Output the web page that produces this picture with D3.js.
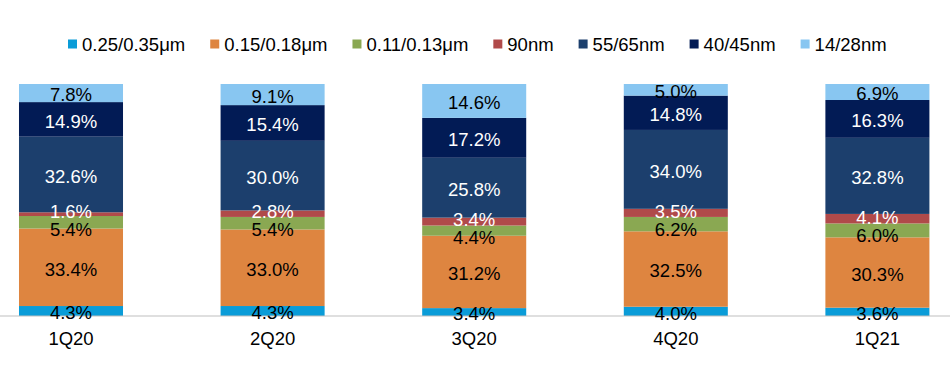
<!DOCTYPE html>
<html>
<head>
<meta charset="utf-8">
<script src="https://cdn.jsdelivr.net/npm/d3@7"></script>
<style>
  body { margin: 0; background: #fff; }
  text { font-family: "Liberation Sans", Arial, sans-serif; }
</style>
</head>
<body>
<div id="chart"></div>
<script>
// quarters and node shares (%), bottom to top
const quarters = ["1Q20", "2Q20", "3Q20", "4Q20", "1Q21"];
const nodes = ["0.25/0.35μm", "0.15/0.18μm", "0.11/0.13μm", "90nm", "55/65nm", "40/45nm", "14/28nm"];
const n025 = [4.3, 4.3, 3.4, 4.0, 3.6];
const n015 = [33.4, 33.0, 31.2, 32.5, 30.3];
const n011 = [5.4, 5.4, 4.4, 6.2, 6.0];
const n90 = [1.6, 2.8, 3.4, 3.5, 4.1];
const n55 = [32.6, 30.0, 25.8, 34.0, 32.8];
const n40 = [14.9, 15.4, 17.2, 14.8, 16.3];
const n14 = [7.8, 9.1, 14.6, 5.0, 6.9];
const colors = ["#0a9cd8", "#de8540", "#8aa852", "#b04a4a", "#1c3f6d", "#021b55", "#88c6f1"];
const labelColors = ["#000", "#000", "#000", "#fff", "#fff", "#fff", "#000"];

const series = [n025, n015, n011, n90, n55, n40, n14];
const rows = quarters.map((q, i) => {
  const r = { q: q };
  nodes.forEach((k, j) => r[k] = series[j][i]);
  return r;
});

const width = 950, height = 370;
const svg = d3.select("#chart").append("svg")
  .attr("width", width)
  .attr("height", height);

const x = d3.scaleBand()
  .domain(quarters)
  .range([-29.8, 978.2])
  .paddingInner(0.484)
  .paddingOuter(0.242);
const y = d3.scaleLinear()
  .domain([0, 100])
  .range([316, 84]);

const stacked = d3.stack().keys(nodes)(rows);

const layers = svg.append("g").selectAll("g")
  .data(stacked)
  .join("g")
  .attr("fill", (d, i) => colors[i]);

layers.selectAll("rect")
  .data(d => d)
  .join("rect")
  .attr("x", d => x(d.data.q))
  .attr("width", x.bandwidth())
  .attr("y", d => y(d[1]))
  .attr("height", d => y(d[0]) - y(d[1]));

// axis line
svg.append("line")
  .attr("x1", 0).attr("x2", width)
  .attr("y1", y(0)).attr("y2", y(0))
  .attr("stroke", "#bfbfbf")
  .attr("stroke-width", 1);

// category labels
const xAxis = svg.append("g")
  .attr("transform", `translate(0,${y(0)})`)
  .call(d3.axisBottom(x).tickSize(0).tickPadding(16));
xAxis.select(".domain").remove();
xAxis.selectAll("text")
  .attr("font-size", "18.5px")
  .attr("fill", "#000")
  .attr("font-family", "Liberation Sans, Arial, sans-serif");

// value labels, centred then pushed apart when too close
const minGap = 18;
quarters.forEach((q, i) => {
  const labs = stacked.map((s, j) => ({
    j: j,
    v: s[i][1] - s[i][0],
    cy: (y(s[i][0]) + y(s[i][1])) / 2
  }));
  for (let it = 0; it < 20; it++) {
    for (let k = 0; k < labs.length - 1; k++) {
      const lo = labs[k], hi = labs[k + 1];
      const d = lo.cy - hi.cy;
      if (d < minGap) {
        const push = (minGap - d) / 2;
        lo.cy += push * 1.1;
        hi.cy -= push * 0.9;
      }
    }
  }
  svg.append("g").selectAll("text")
    .data(labs)
    .join("text")
    .attr("x", x(q) + x.bandwidth() / 2)
    .attr("y", d => d.cy)
    .attr("dy", "0.45em")
    .attr("text-anchor", "middle")
    .attr("font-size", "18.5px")
    .attr("fill", d => labelColors[d.j])
    .text(d => d.v.toFixed(1) + "%");
});

// legend
const legend = svg.append("g").attr("transform", "translate(68,44)");
let lx = 0;
nodes.forEach((k, i) => {
  const g = legend.append("g").attr("transform", `translate(${lx},0)`);
  g.append("rect")
    .attr("x", 0).attr("y", -4.5)
    .attr("width", 9).attr("height", 9)
    .attr("fill", colors[i]);
  const t = g.append("text")
    .attr("x", 14)
    .attr("dy", "0.36em")
    .attr("font-size", "18.5px")
    .attr("fill", "#000")
    .text(k);
  lx += 14 + t.node().getComputedTextLength() + 25;
});
</script>
</body>
</html>
